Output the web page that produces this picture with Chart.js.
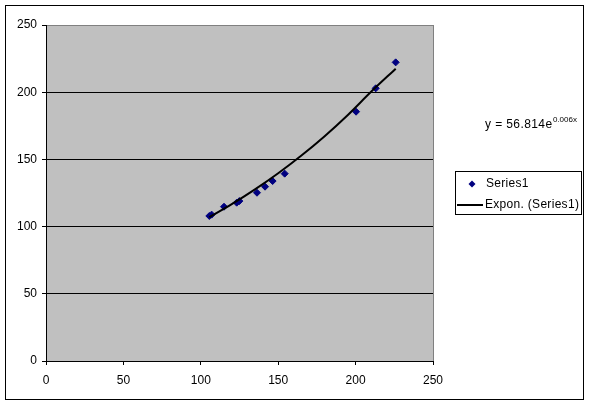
<!DOCTYPE html>
<html>
<head>
<meta charset="utf-8">
<script src="https://cdn.jsdelivr.net/npm/chart.js@4.4.1/dist/chart.umd.min.js"></script>
<style>
  body { margin: 0; background: #fff; }
  canvas { display: block; }
</style>
</head>
<body>
<canvas id="chart" width="590" height="405"></canvas>
<script>
// Data
const seriesX = [105.5, 107, 115, 123.2, 124.9, 136.3, 141.5, 146.4, 154.2, 200.3, 213, 225.9];
const seriesY = [107.9, 108.9, 114.8, 117.8, 119, 125.2, 129.7, 133.9, 139.4, 185.5, 202.9, 222.2];
const trendX = [105.5, 120, 135, 150, 165, 180, 195, 210, 225.9];
const trendY = [107.0, 116.7, 127.7, 139.7, 152.9, 167.3, 183.1, 200.3, 217.5];
const axisTicks = [0, 50, 100, 150, 200, 250];
const seriesLabel = 'Series1';
const trendLabel = 'Expon. (Series1)';
const equationMain = 'y = 56.814e';
const equationSup = '0.006x';

const FONT = "'Liberation Sans', Arial, sans-serif";

// Background, frame, legend and equation
const decor = {
    id: 'decor',
    beforeDraw(chart) {
        const c = chart.ctx, a = chart.chartArea;
        c.save();
        c.fillStyle = '#fff';
        c.fillRect(0, 0, chart.width, chart.height);
        c.fillStyle = '#c0c0c0';
        c.fillRect(a.left, a.top, a.right - a.left, a.bottom - a.top);
        c.strokeStyle = '#000';
        c.lineWidth = 1;
        c.strokeRect(5.5, 5.5, 578, 394);
        c.restore();
    },
    afterDatasetsDraw(chart) {
        const c = chart.ctx, a = chart.chartArea;
        c.save();
        // right edge of plot
        c.strokeStyle = '#808080';
        c.lineWidth = 1;
        c.beginPath();
        c.moveTo(Math.round(a.right) + 0.5, a.top);
        c.lineTo(Math.round(a.right) + 0.5, a.bottom);
        c.stroke();

        // equation
        c.fillStyle = '#000';
        c.textBaseline = 'middle';
        c.font = '12px ' + FONT;
        c.letterSpacing = '0.4px';
        c.fillText(equationMain, 485, 125);
        const w = c.measureText(equationMain).width;
        c.font = '8px ' + FONT;
        c.letterSpacing = '0px';
        c.fillText(equationSup, 485 + w + 0.5, 120);

        // legend
        c.strokeStyle = '#000';
        c.strokeRect(455.5, 171.5, 126, 43);
        c.fillStyle = '#000080';
        c.beginPath();
        c.moveTo(472, 180.5);
        c.lineTo(475.5, 184);
        c.lineTo(472, 187.5);
        c.lineTo(468.5, 184);
        c.closePath();
        c.fill();
        c.strokeStyle = '#000';
        c.lineWidth = 2;
        c.beginPath();
        c.moveTo(457, 205);
        c.lineTo(483, 205);
        c.stroke();
        c.fillStyle = '#000';
        c.font = '12px ' + FONT;
        c.letterSpacing = '0.3px';
        c.fillText(seriesLabel, 486, 184);
        c.fillText(trendLabel, 485, 205);
        c.restore();
    }
};

new Chart(document.getElementById('chart'), {
    type: 'scatter',
    data: {
        datasets: [
            {
                label: trendLabel,
                data: trendX.map((x, i) => ({ x: x, y: trendY[i] })),
                showLine: true,
                borderColor: '#000',
                borderWidth: 2,
                pointRadius: 0,
                cubicInterpolationMode: 'monotone',
                order: 0
            },
            {
                label: seriesLabel,
                data: seriesX.map((x, i) => ({ x: x, y: seriesY[i] })),
                pointStyle: 'rectRot',
                pointRadius: 3.5,
                backgroundColor: '#000080',
                borderColor: '#000080',
                borderWidth: 1,
                order: 1
            }
        ]
    },
    options: {
        responsive: false,
        animation: false,
        layout: { padding: { left: 0, top: 25, right: 157, bottom: 0 } },
        plugins: { legend: { display: false }, tooltip: { enabled: false } },
        scales: {
            x: {
                type: 'linear',
                min: 0, max: 250,
                afterBuildTicks: s => { s.ticks = axisTicks.map(v => ({ value: v })); },
                afterFit: s => { s.height = 44; },
                grid: { drawOnChartArea: false, drawTicks: true, tickLength: 4, tickColor: '#000' },
                border: { display: true, color: '#000', width: 1 },
                ticks: { color: '#000', font: { size: 12, family: FONT }, padding: 8, maxRotation: 0 }
            },
            y: {
                type: 'linear',
                min: 0, max: 250,
                afterBuildTicks: s => { s.ticks = axisTicks.map(v => ({ value: v })); },
                afterFit: s => { s.width = 46; },
                grid: {
                    color: ctx => (ctx.tick && ctx.tick.value === 250 ? '#808080' : '#000'),
                    tickColor: '#000',
                    drawTicks: true,
                    tickLength: 4
                },
                border: { display: true, color: '#000', width: 1 },
                ticks: { color: '#000', font: { size: 12, family: FONT }, padding: 5 }
            }
        }
    },
    plugins: [decor]
});
</script>
</body>
</html>
